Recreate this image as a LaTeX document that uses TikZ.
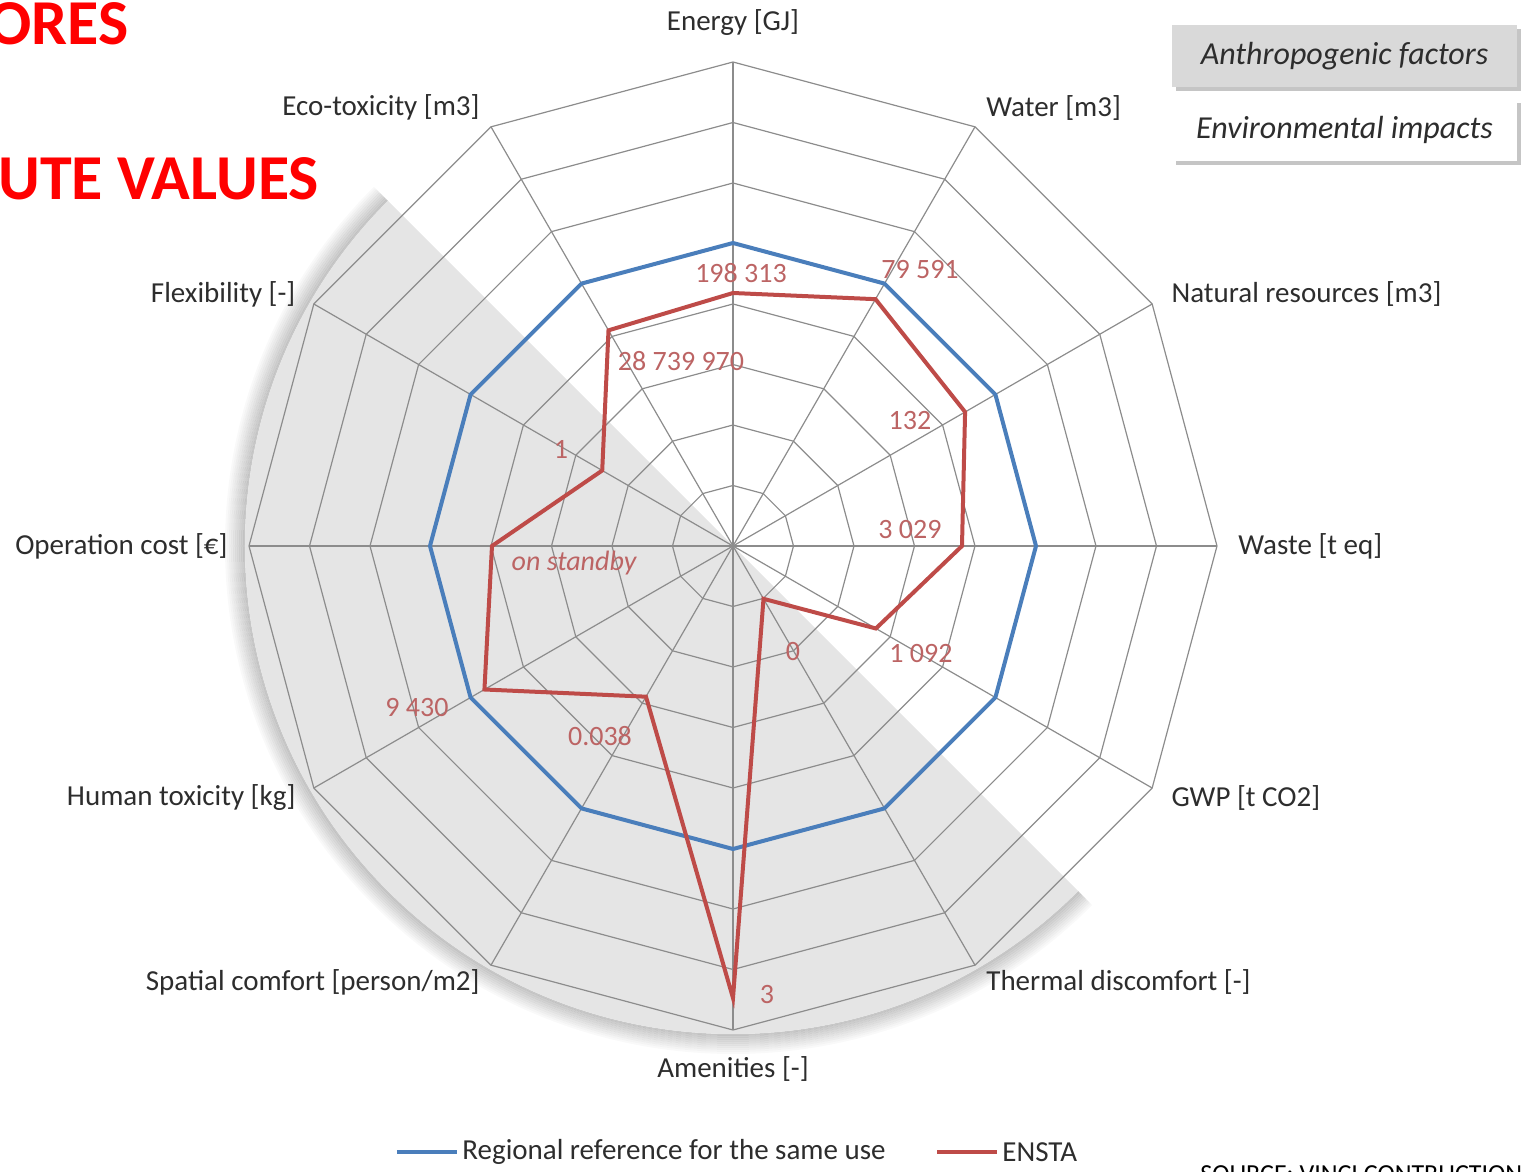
\documentclass[tikz,border=0pt]{standalone}
\usepackage{fontspec}
\setmainfont{Carlito}
\usetikzlibrary{positioning,shadows}
\definecolor{refblue}{RGB}{74,126,187}
\definecolor{enstared}{RGB}{190,75,72}
\definecolor{vallab}{RGB}{188,100,100}
\definecolor{webgray}{RGB}{140,140,140}
\definecolor{labgray}{RGB}{45,45,45}
\definecolor{titlered}{RGB}{255,0,0}

\begin{document}
\begin{tikzpicture}[x=0.5pt, y=0.5pt,
  axlab/.style = {text=labgray, font=\fontsize{14.5}{16}\selectfont, inner sep=0pt},
  val/.style = {text=vallab, font=\fontsize{14}{16}\selectfont, inner sep=0pt},
  web/.style = {webgray, line width=0.6pt},
  refline/.style = {refblue, line width=2pt, line join=miter},
  enstaline/.style = {enstared, line width=2pt, line join=miter},
  keybox/.style = {minimum width=172.5pt, minimum height=31pt, inner sep=0pt,
    text=labgray, font=\fontsize{16}{18}\selectfont\itshape,
    drop shadow={shadow xshift=2pt, shadow yshift=-2pt, fill=black!45, opacity=0.5}},
  titletext/.style = {text=titlered, font=\fontsize{32}{35}\selectfont\bfseries, inner sep=0pt, anchor=base west}]
\useasboundingbox (-733,-626) rectangle (788,546);

% shaded half (anthropogenic factors)
\foreach \k in {1,...,10} {
  \pgfmathsetmacro\op{0.022*(11-\k)}
  \draw[black, opacity=\op, line width=1pt] (135:{487+2*\k}) arc[start angle=135, end angle=315, radius={487+2*\k}];
}
\fill[black!10] (135:488) arc[start angle=135, end angle=315, radius=488] -- cycle;

% web
\foreach \i in {0,...,11}
  \coordinate (a\i) at ({90-30*\i}:484);
\foreach \k in {1,...,8}
  \draw[web] (90:{\k*60.5}) \foreach \i in {1,...,11} {-- ({90-30*\i}:{\k*60.5})} -- cycle;
\foreach \i in {0,...,11}
  \draw[web] (0,0) -- (a\i);

% axis labels
\node[axlab] (lenergy) at ([shift={(0,39)}]a0) {Energy [GJ]};
\node[axlab, anchor=west] (lwater) at ([shift={(11,19)}]a1) {Water [m3]};
\node[axlab, anchor=west] (lnat) at ([shift={(19,10)}]a2) {Natural resources [m3]};
\node[axlab, anchor=west] (lwaste) at ([shift={(21,0)}]a3) {Waste [t eq]};
\node[axlab, anchor=west] (lgwp) at ([shift={(19,-10)}]a4) {GWP [t CO2]};
\node[axlab, anchor=west] (lthermal) at ([shift={(11,-17)}]a5) {Thermal discomfort [-]};
\node[axlab] (lamen) at ([shift={(0,-39)}]a6) {Amenities [-]};
\node[axlab, anchor=east] (lspatial) at ([shift={(-11,-17)}]a7) {Spatial comfort [person/m2]};
\node[axlab, anchor=east] (lhuman) at ([shift={(-18,-10)}]a8) {Human toxicity [kg]};
\node[axlab, anchor=east] (lopcost) at ([shift={(-21,0)}]a9) {Operation cost [€]};
\node[axlab, anchor=east] (lflex) at ([shift={(-18,10)}]a10) {Flexibility [-]};
\node[axlab, anchor=east] (leco) at ([shift={(-11,19)}]a11) {Eco-toxicity [m3]};

% regional reference
\foreach \i in {0,...,11}
  \coordinate (b\i) at ({90-30*\i}:303);
\draw[refline] (b0) \foreach \i in {1,...,11} {-- (b\i)} -- cycle;

% ENSTA
\foreach \r [count=\i from 0] in {253,285,268,229,165,61,452,174,287,241,151,249}
  \coordinate (e\i) at ({90-30*\i}:\r);
\draw[enstaline] (e0) \foreach \i in {1,...,11} {-- (e\i)} -- cycle;

% values
\node[val] (v0) at (8,273) {198 313};
\node[val] (v1) at (187,276) {79 591};
\node[val] (v2) at (177,125) {132};
\node[val] (v3) at (177,16) {3 029};
\node[val] (v4) at (188,-108) {1 092};
\node[val] (v5) at (60,-106) {0};
\node[val] (v6) at (34,-449) {3};
\node[val] (v7) at (-133,-190) {0.038};
\node[val] (v8) at (-316,-162) {9 430};
\node[val, font=\fontsize{14}{16}\selectfont\itshape] (v9) at (-159,-17) {on standby};
\node[val] (v10) at (-172,97) {1};
\node[val] (v11) at (-52,185) {28 739 970};

% key boxes
\node[keybox, fill=black!15] (kanthro) at (611.5,490) {Anthropogenic factors};
\node[keybox, fill=white] (kenv) at (611.5,416) {Environmental impacts};

% legend
\coordinate (lg1a) at (-336,-606);
\coordinate (lg1b) at (-276,-606);
\draw[refline, line width=2.2pt] (lg1a) -- (lg1b);
\node[axlab, anchor=west] (lgref) at ([xshift=2.5pt]lg1b) {Regional reference for the same use};
\coordinate (lg2a) at (204,-606);
\coordinate (lg2b) at (264,-606);
\draw[enstaline, line width=2.2pt] (lg2a) -- (lg2b);
\node[axlab, anchor=west] (lgensta) at ([xshift=2.5pt]lg2b) {ENSTA};

% slide leftovers
\node[titletext] (t1) at (-745,501) {ORES};
\node[titletext] (t2) at (-735,346) {UTE VALUES};
\node[inner sep=0pt, anchor=base west, font=\fontsize{13}{15}\selectfont] (src) at (467,-636) {SOURCE: VINCI CONTRUCTION};
\end{tikzpicture}
\end{document}
